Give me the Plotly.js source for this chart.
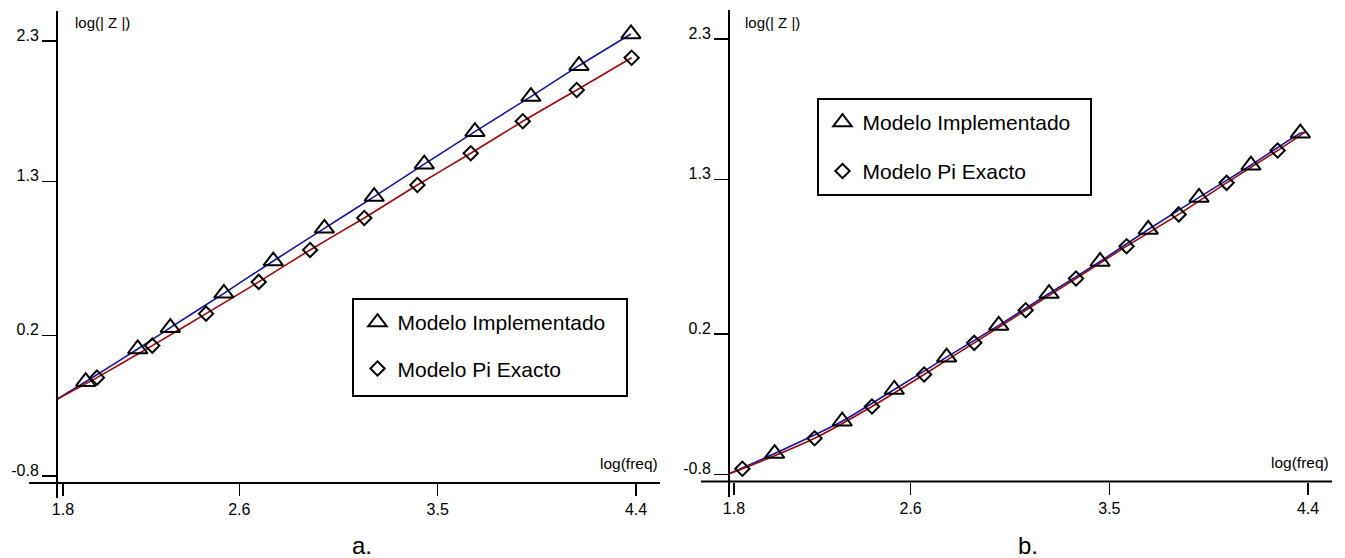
<!DOCTYPE html>
<html><head><meta charset="utf-8">
<script src="https://cdn.plot.ly/plotly-3.0.1.min.js"></script>
<style>html,body{margin:0;padding:0;background:#fff}#chart{width:1345px;height:558px}</style>
</head><body><div id="chart"></div>
<script>
// ---- Panel a data ----
const aStartX = [1.773], aStartY = [-0.253];
const aImplX = [1.903, 2.139, 2.287, 2.530, 2.754, 2.986, 3.212, 3.439, 3.669, 3.923, 4.141, 4.377];
const aImplY = [-0.128, 0.105, 0.257, 0.502, 0.732, 0.965, 1.191, 1.422, 1.654, 1.904, 2.124, 2.350];
const aPiX = [1.954, 2.205, 2.449, 2.688, 2.921, 3.167, 3.408, 3.650, 3.886, 4.131, 4.380];
const aPiY = [-0.099, 0.129, 0.357, 0.583, 0.811, 1.039, 1.274, 1.500, 1.728, 1.951, 2.181];
// ---- Panel b data ----
const bStartX = [1.777], bStartY = [-0.795];
const bEndX = [4.385], bEndY = [1.635];
const bImplX = [1.984, 2.290, 2.526, 2.763, 2.999, 3.227, 3.458, 3.676, 3.906, 4.141, 4.365];
const bImplY = [-0.651, -0.421, -0.195, 0.035, 0.261, 0.488, 0.716, 0.944, 1.172, 1.401, 1.629];
const bPiX = [1.838, 2.165, 2.425, 2.661, 2.888, 3.121, 3.349, 3.578, 3.814, 4.031, 4.262];
const bPiY = [-0.759, -0.542, -0.316, -0.088, 0.137, 0.369, 0.595, 0.825, 1.051, 1.276, 1.506];
// ---- ticks / labels ----
const xTicks = [1.8, 2.6, 3.5, 4.4];
const yTicks = [-0.8, 0.2, 1.3, 2.3];
const seriesNames = ['Modelo Implementado', 'Modelo Pi Exacto'];
const xTitle = 'log(freq)', yTitle = 'log(| Z |)';
const panelLabels = ['a.', 'b.'];

const W = 1345, H = 558;
const px = v => v / W, py = v => 1 - v / H;
const BLUE = '#1414a0', RED = '#a00808';

function lineTrace(x, y, color, xa, ya) {
  return {x, y, mode: 'lines', line: {color, width: 1.6, shape: 'spline', smoothing: 0.6},
          xaxis: xa, yaxis: ya, showlegend: false, hoverinfo: 'skip'};
}
function markTrace(x, y, sym, name, xa, ya, leg, grp) {
  return {x, y, mode: 'markers', name, legend: leg, legendgroup: grp,
          marker: {symbol: sym, size: sym.startsWith('triangle') ? 17 : 11, color: 'black', line: {width: 2, color: 'black'}},
          xaxis: xa, yaxis: ya, cliponaxis: false};
}

const data = [
  lineTrace(aStartX.concat(aImplX), aStartY.concat(aImplY), BLUE, 'x', 'y'),
  lineTrace(aStartX.concat(aPiX), aStartY.concat(aPiY), RED, 'x', 'y'),
  markTrace(aImplX, aImplY, 'triangle-up-open', seriesNames[0], 'x', 'y', 'legend', 'a1'),
  markTrace(aPiX, aPiY, 'diamond-open', seriesNames[1], 'x', 'y', 'legend', 'a2'),
  lineTrace(bStartX.concat(bImplX, bEndX), bStartY.concat(bImplY, bEndY), BLUE, 'x2', 'y2'),
  lineTrace(bStartX.concat(bPiX, bEndX), bStartY.concat(bPiY, bEndY), RED, 'x2', 'y2'),
  markTrace(bImplX, bImplY, 'triangle-up-open', seriesNames[0], 'x2', 'y2', 'legend2', 'b1'),
  markTrace(bPiX, bPiY, 'diamond-open', seriesNames[1], 'x2', 'y2', 'legend2', 'b2')
];

const common = {showgrid: false, zeroline: false, showline: false, fixedrange: true,
  ticks: 'outside', tickcolor: 'black', tickwidth: 1.6,
  tickfont: {size: 16, color: 'black', family: 'Liberation Sans, Arial, sans-serif'}};
const xax = (dom, rng, anchor) => Object.assign({}, common, {domain: dom, range: rng, anchor,
  tickvals: xTicks, ticktext: xTicks.map(v => v.toFixed(1)), ticklen: 12});
const yax = (dom, rng, anchor) => Object.assign({}, common, {domain: dom, range: rng, anchor,
  tickvals: yTicks, ticktext: yTicks.map(v => v.toFixed(1)), ticklen: 14, ticklabelshift: -6});

const axisLine = (x0, y0, x1, y1) => ({type: 'line', xref: 'paper', yref: 'paper',
  x0: px(x0), y0: py(y0), x1: px(x1), y1: py(y1), line: {color: 'black', width: 2}});
const box = (x0, y0, x1, y1) => ({type: 'rect', xref: 'paper', yref: 'paper', layer: 'above',
  x0: px(x0), y0: py(y0), x1: px(x1), y1: py(y1), line: {color: 'black', width: 2}, fillcolor: 'white'});

const ann = (text, x, y, xanchor, size) => ({text, x: px(x), y: py(y), xref: 'paper', yref: 'paper',
  xanchor, yanchor: 'middle', showarrow: false, font: {size, color: 'black'}});

const legendBase = {xanchor: 'left', yanchor: 'top', borderwidth: 0,
  bgcolor: 'rgba(0,0,0,0)', font: {size: 21, color: 'black'}, traceorder: 'grouped'};

const layout = {
  width: W, height: H, margin: {l: 0, r: 0, t: 0, b: 0},
  paper_bgcolor: 'white', plot_bgcolor: 'rgba(0,0,0,0)',
  font: {family: 'Liberation Sans, Arial, sans-serif', size: 16, color: 'black'},
  xaxis: xax([px(57), px(660)], [1.7728, 4.5087], 'y'),
  yaxis: yax([py(483), py(11)], [-0.8499, 2.5138], 'x'),
  xaxis2: xax([px(729), px(1332)], [1.7774, 4.5083], 'y2'),
  yaxis2: yax([py(481.5), py(10)], [-0.8498, 2.506], 'x2'),
  shapes: [
    axisLine(57, 11, 57, 498), axisLine(29, 483, 660, 483),
    axisLine(729, 10, 729, 497), axisLine(701, 481.5, 1332, 481.5),
    box(353, 299, 627, 396), box(818, 99, 1091, 195)
  ],
  annotations: [
    ann(yTitle, 73, 22, 'left', 15), ann(xTitle, 660, 463, 'right', 15.5),
    ann(yTitle, 743, 22, 'left', 15), ann(xTitle, 1331, 462, 'right', 15.5),
    ann(panelLabels[0], 362, 545, 'center', 24), ann(panelLabels[1], 1028, 545, 'center', 24)
  ],
  legend: Object.assign({}, legendBase, {x: px(357.5), y: py(302), tracegroupgap: 16}),
  legend2: Object.assign({}, legendBase, {x: px(822.5), y: py(102), tracegroupgap: 18.5})
};

Plotly.newPlot('chart', data, layout, {staticPlot: true, displayModeBar: false});
</script>
</body></html>
